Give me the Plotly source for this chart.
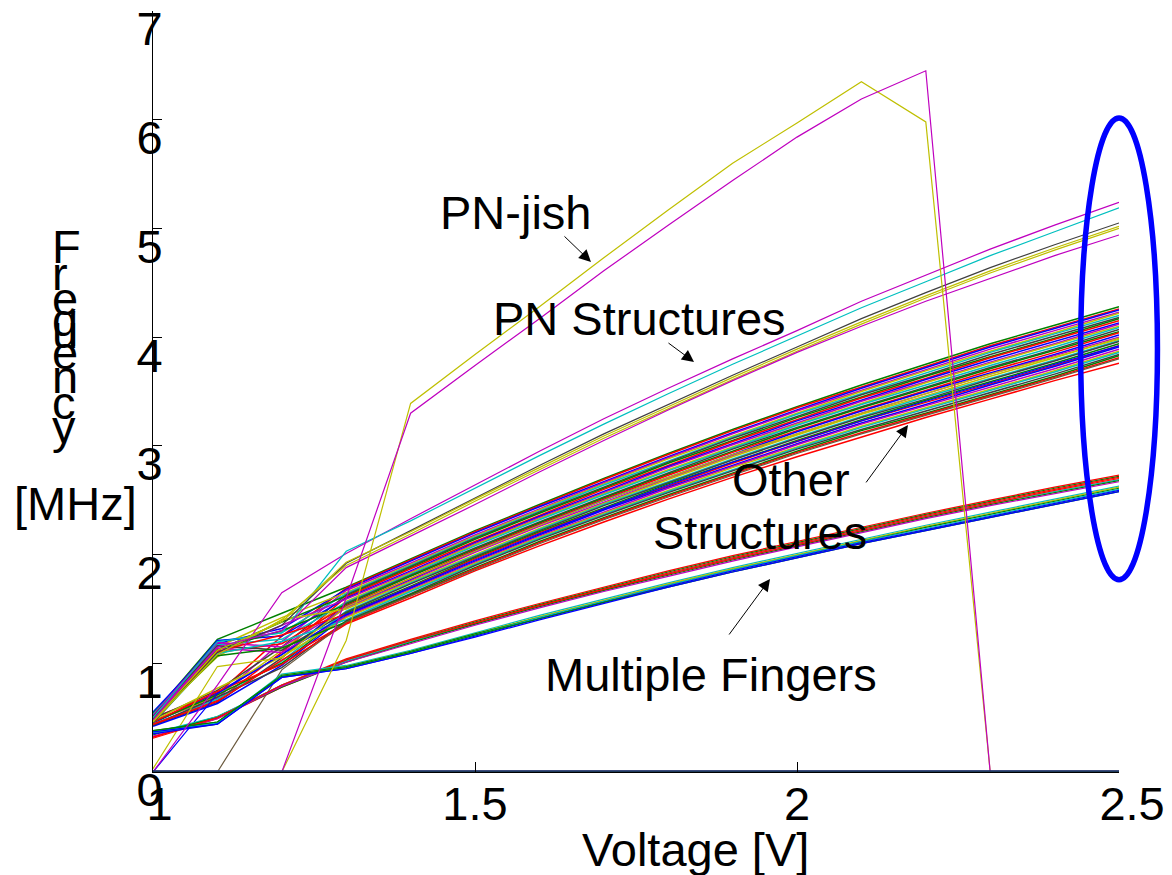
import plotly.graph_objects as go

# ---------------- data ----------------
VOLTAGE = [1.0, 1.1, 1.2, 1.3, 1.4, 1.5, 1.6, 1.7, 1.8, 1.9, 2.0, 2.1, 2.2, 2.3, 2.4, 2.5]

OTHER_STRUCTURES = [
    [0.53, 1.22, 1.46, 1.70, 1.96, 2.22, 2.46, 2.70, 2.93, 3.15, 3.36, 3.56, 3.75, 3.94, 4.11, 4.28],
    [0.50, 0.72, 1.25, 1.69, 1.95, 2.21, 2.45, 2.69, 2.92, 3.14, 3.35, 3.54, 3.73, 3.92, 4.09, 4.26],
    [0.55, 1.18, 1.32, 1.68, 1.94, 2.20, 2.44, 2.67, 2.90, 3.12, 3.33, 3.53, 3.72, 3.91, 4.08, 4.25],
    [0.47, 0.68, 1.20, 1.67, 1.92, 2.18, 2.42, 2.66, 2.89, 3.11, 3.32, 3.51, 3.70, 3.89, 4.06, 4.23],
    [0.52, 1.15, 1.42, 1.65, 1.91, 2.17, 2.41, 2.65, 2.88, 3.09, 3.30, 3.50, 3.69, 3.87, 4.04, 4.22],
    [0.45, 1.20, 1.28, 1.64, 1.90, 2.16, 2.40, 2.64, 2.86, 3.08, 3.29, 3.48, 3.67, 3.86, 4.03, 4.20],
    [0.49, 0.75, 1.15, 1.63, 1.89, 2.15, 2.39, 2.62, 2.85, 3.07, 3.27, 3.47, 3.65, 3.84, 4.01, 4.18],
    [0.54, 1.12, 1.38, 1.62, 1.88, 2.14, 2.38, 2.61, 2.84, 3.05, 3.26, 3.45, 3.64, 3.82, 3.99, 4.17],
    [0.44, 0.66, 1.10, 1.61, 1.87, 2.12, 2.36, 2.60, 2.82, 3.04, 3.24, 3.44, 3.62, 3.81, 3.98, 4.15],
    [0.51, 1.21, 1.25, 1.60, 1.85, 2.11, 2.35, 2.58, 2.81, 3.02, 3.23, 3.42, 3.61, 3.79, 3.96, 4.13],
    [0.48, 1.08, 1.35, 1.59, 1.84, 2.10, 2.34, 2.57, 2.80, 3.01, 3.21, 3.41, 3.59, 3.77, 3.94, 4.12],
    [0.46, 0.70, 1.12, 1.57, 1.83, 2.09, 2.33, 2.56, 2.78, 2.99, 3.20, 3.39, 3.58, 3.76, 3.93, 4.10],
    [0.53, 1.17, 1.22, 1.56, 1.82, 2.08, 2.32, 2.55, 2.77, 2.98, 3.19, 3.38, 3.56, 3.74, 3.91, 4.09],
    [0.43, 0.64, 1.05, 1.55, 1.81, 2.06, 2.30, 2.53, 2.75, 2.97, 3.17, 3.36, 3.54, 3.72, 3.89, 4.07],
    [0.50, 1.13, 1.30, 1.54, 1.80, 2.05, 2.29, 2.52, 2.74, 2.95, 3.16, 3.35, 3.53, 3.71, 3.88, 4.05],
    [0.47, 1.10, 1.18, 1.53, 1.78, 2.04, 2.28, 2.51, 2.73, 2.94, 3.14, 3.33, 3.51, 3.69, 3.86, 4.04],
    [0.45, 0.73, 1.08, 1.52, 1.77, 2.03, 2.27, 2.50, 2.71, 2.92, 3.13, 3.32, 3.50, 3.67, 3.84, 4.02],
    [0.52, 1.19, 1.15, 1.51, 1.76, 2.02, 2.26, 2.48, 2.70, 2.91, 3.11, 3.30, 3.48, 3.66, 3.83, 4.00],
    [0.49, 1.06, 1.40, 1.50, 1.75, 2.00, 2.24, 2.47, 2.69, 2.90, 3.10, 3.29, 3.46, 3.64, 3.81, 3.99],
    [0.44, 0.67, 1.02, 1.48, 1.74, 1.99, 2.23, 2.46, 2.67, 2.88, 3.08, 3.27, 3.45, 3.62, 3.79, 3.97],
    [0.51, 1.16, 1.12, 1.47, 1.73, 1.98, 2.22, 2.45, 2.66, 2.87, 3.07, 3.26, 3.43, 3.61, 3.78, 3.96],
    [0.46, 0.71, 1.00, 1.46, 1.71, 1.97, 2.21, 2.43, 2.65, 2.85, 3.05, 3.24, 3.42, 3.59, 3.76, 3.94],
    [0.48, 1.11, 1.26, 1.45, 1.70, 1.96, 2.20, 2.42, 2.63, 2.84, 3.04, 3.23, 3.40, 3.57, 3.74, 3.92],
    [0.42, 0.63, 0.98, 1.44, 1.69, 1.94, 2.18, 2.41, 2.62, 2.82, 3.02, 3.21, 3.38, 3.56, 3.73, 3.91],
    [0.50, 1.14, 1.10, 1.43, 1.68, 1.93, 2.17, 2.39, 2.61, 2.81, 3.01, 3.20, 3.37, 3.54, 3.71, 3.89],
    [0.47, 0.77, 1.06, 1.42, 1.67, 1.92, 2.16, 2.38, 2.59, 2.80, 2.99, 3.18, 3.35, 3.52, 3.69, 3.87],
    [0.45, 1.09, 1.20, 1.40, 1.66, 1.91, 2.15, 2.37, 2.58, 2.78, 2.98, 3.17, 3.34, 3.51, 3.68, 3.86],
    [0.43, 0.69, 0.96, 1.39, 1.64, 1.90, 2.14, 2.36, 2.57, 2.77, 2.97, 3.15, 3.32, 3.49, 3.66, 3.84],
    [0.49, 1.07, 1.14, 1.38, 1.63, 1.88, 2.12, 2.34, 2.55, 2.75, 2.95, 3.14, 3.30, 3.47, 3.64, 3.83],
    [0.44, 0.65, 1.03, 1.37, 1.62, 1.87, 2.11, 2.33, 2.54, 2.74, 2.94, 3.12, 3.29, 3.46, 3.63, 3.81],
    [0.46, 0.74, 0.99, 1.36, 1.60, 1.85, 2.08, 2.30, 2.51, 2.71, 2.90, 3.08, 3.26, 3.43, 3.60, 3.76],
]

LATE_STARTERS = [
    [0.00, 0.72, 1.08, 1.45, 1.70, 1.95, 2.19, 2.42, 2.64, 2.85, 3.04, 3.23, 3.41, 3.58, 3.75, 3.92],
    [0.03, 0.97, 1.05, 1.52, 1.78, 2.03, 2.27, 2.50, 2.71, 2.92, 3.11, 3.30, 3.48, 3.66, 3.82, 3.98],
    [0.00, 0.00, 0.94, 1.38, 1.62, 1.86, 2.10, 2.32, 2.53, 2.73, 2.93, 3.11, 3.28, 3.45, 3.62, 3.80],
]

MULTIPLE_FINGERS = [
    [0.32, 0.50, 0.80, 1.04, 1.22, 1.39, 1.55, 1.70, 1.85, 1.99, 2.12, 2.25, 2.38, 2.50, 2.62, 2.73],
    [0.34, 0.51, 0.79, 1.03, 1.21, 1.38, 1.54, 1.69, 1.84, 1.98, 2.11, 2.24, 2.37, 2.49, 2.61, 2.72],
    [0.31, 0.49, 0.78, 1.02, 1.20, 1.37, 1.53, 1.68, 1.83, 1.97, 2.10, 2.23, 2.36, 2.48, 2.60, 2.71],
    [0.36, 0.51, 0.80, 1.02, 1.20, 1.36, 1.52, 1.67, 1.82, 1.96, 2.09, 2.22, 2.35, 2.47, 2.58, 2.69],
    [0.35, 0.50, 0.78, 1.01, 1.19, 1.36, 1.52, 1.67, 1.81, 1.95, 2.08, 2.21, 2.34, 2.46, 2.57, 2.68],
    [0.33, 0.49, 0.79, 1.01, 1.18, 1.35, 1.51, 1.66, 1.80, 1.94, 2.07, 2.20, 2.33, 2.45, 2.56, 2.67],
    [0.32, 0.50, 0.80, 1.03, 1.21, 1.37, 1.53, 1.68, 1.82, 1.96, 2.09, 2.22, 2.35, 2.47, 2.59, 2.70],
    [0.37, 0.45, 0.90, 0.98, 1.12, 1.28, 1.44, 1.59, 1.74, 1.88, 2.01, 2.14, 2.27, 2.39, 2.51, 2.63],
    [0.36, 0.44, 0.89, 0.97, 1.11, 1.27, 1.43, 1.58, 1.73, 1.87, 2.00, 2.13, 2.26, 2.38, 2.50, 2.62],
    [0.38, 0.46, 0.89, 0.97, 1.11, 1.27, 1.42, 1.57, 1.72, 1.86, 1.99, 2.12, 2.25, 2.37, 2.49, 2.61],
    [0.36, 0.45, 0.88, 0.96, 1.10, 1.26, 1.42, 1.57, 1.72, 1.86, 1.99, 2.12, 2.24, 2.36, 2.48, 2.60],
    [0.37, 0.44, 0.87, 0.95, 1.09, 1.25, 1.41, 1.56, 1.71, 1.85, 1.98, 2.11, 2.23, 2.35, 2.47, 2.59],
    [0.38, 0.46, 0.88, 0.96, 1.10, 1.26, 1.41, 1.56, 1.70, 1.84, 1.97, 2.10, 2.22, 2.34, 2.46, 2.58],
    [0.35, 0.44, 0.87, 0.95, 1.09, 1.24, 1.40, 1.55, 1.70, 1.84, 1.97, 2.10, 2.22, 2.34, 2.46, 2.58],
]

PN_STRUCTURES = [
    [0.00, 0.80, 1.65, 2.01, 2.33, 2.64, 2.95, 3.25, 3.53, 3.80, 4.06, 4.33, 4.57, 4.81, 5.03, 5.24],
    [0.50, 1.20, 1.28, 2.03, 2.31, 2.61, 2.91, 3.20, 3.48, 3.75, 4.01, 4.27, 4.51, 4.75, 4.97, 5.19],
    [0.45, 1.10, 1.35, 1.92, 2.22, 2.52, 2.82, 3.11, 3.38, 3.65, 3.91, 4.17, 4.41, 4.64, 4.85, 5.05],
    [0.47, 1.12, 1.38, 1.93, 2.21, 2.51, 2.80, 3.09, 3.36, 3.63, 3.89, 4.14, 4.38, 4.61, 4.82, 5.02],
    [0.46, 1.08, 1.40, 1.90, 2.19, 2.49, 2.78, 3.07, 3.34, 3.61, 3.87, 4.12, 4.36, 4.59, 4.80, 5.00],
    [0.48, 1.15, 1.30, 1.88, 2.17, 2.46, 2.76, 3.05, 3.33, 3.60, 3.86, 4.10, 4.33, 4.54, 4.75, 4.94],
]

PN_JISH = [
    [0.00, 0.00, 0.00, 1.21, 3.39, 3.84, 4.28, 4.73, 5.17, 5.60, 5.97, 6.35, 5.98, 0.00, 0.00, 0.00],
    [0.00, 0.00, 0.00, 1.60, 3.30, 3.74, 4.17, 4.61, 5.03, 5.44, 5.84, 6.19, 6.45, 0.00, 0.00, 0.00],
]

FAILED_ZERO = [
    [0.0] * 16,
    [0.0] * 16,
    [0.0] * 16,
]

XTICK_VALS = [1.0, 1.5, 2.0, 2.5]
XTICK_TEXT = ["\u00a01", "1.5", "2", "\u00a0\u00a02.5"]
YTICK_VALS = [0, 1, 2, 3, 4, 5, 6, 7]
YTICK_TEXT = ["0", "1", "2", "3", "4", "5", "6", "7"]

# ---------------- styles ----------------
B, G, R, C, M, Y, K = "#0000ff", "#008000", "#ff0000", "#00bfbf", "#bf00bf", "#bfbf00", "#404040"
CYCLE = [G, R, B, M, Y, C, K]
FONT = "Liberation Sans, Arial, Helvetica, sans-serif"
LW = 1.2

fig = go.Figure()


def add(vals, color, width=LW):
    fig.add_trace(go.Scatter(x=VOLTAGE, y=vals, mode="lines",
                             line=dict(color=color, width=width),
                             hoverinfo="skip", showlegend=False))


for i, v in enumerate(OTHER_STRUCTURES):
    add(v, R if i == len(OTHER_STRUCTURES) - 1 else CYCLE[i % len(CYCLE)], 1.5)
for v, c in zip(LATE_STARTERS, [B, Y, "#6b5a3e"]):
    add(v, c)
for v, c in zip(MULTIPLE_FINGERS, [R, G, R, C, G, M, R, C, Y, G, C, B, G, B]):
    add(v, c)
for v, c in zip(PN_STRUCTURES, [M, C, K, Y, Y, M]):
    add(v, c)
for v, c in zip(PN_JISH, [Y, M]):
    add(v, c)
for v, c in zip(FAILED_ZERO, [B, K, "#1f3b5c"]):
    add(v, c, 3)

fig.update_layout(
    width=1172, height=875,
    margin=dict(l=153, r=53, t=11, b=103, autoexpand=False),
    paper_bgcolor="white", plot_bgcolor="white",
    showlegend=False,
    font=dict(family=FONT, size=47, color="black"),
)
fig.update_xaxes(
    range=[1, 2.5], tickmode="array", tickvals=XTICK_VALS, ticktext=XTICK_TEXT,
    ticks="inside", ticklen=10, tickwidth=1, tickcolor="black",
    showline=True, linecolor="black", linewidth=1,
    showgrid=False, zeroline=False, automargin=False,
    ticklabelstandoff=-9,
    tickfont=dict(family=FONT, size=47, color="black"),
)
fig.update_yaxes(
    range=[0, 7], tickmode="array", tickvals=YTICK_VALS, ticktext=YTICK_TEXT,
    ticks="inside", ticklen=9, tickwidth=1, tickcolor="black",
    showline=True, linecolor="black", linewidth=1,
    showgrid=False, zeroline=False, automargin=False,
    ticklabelshift=18, ticklabelstandoff=-20,
    tickfont=dict(family=FONT, size=47, color="black"),
)

ann = []
# axis titles
ann.append(dict(text="Voltage [V]", x=0.5621, y=-0.1012, xref="paper", yref="paper",
                xanchor="center", yanchor="middle", showarrow=False))
letters = ["F", "r", "e", "q", "u", "e", "n", "c", "y"]
letter_y = [0.6899, 0.6557, 0.6216, 0.5940, 0.5795, 0.5519, 0.5191, 0.4862, 0.4534]
for ch, yy in zip(letters, letter_y):
    ann.append(dict(text=ch, x=-0.1066, y=yy, xref="paper", yref="paper",
                    xanchor="left", yanchor="middle", showarrow=False))
ann.append(dict(text="[MHz]", x=-0.0802, y=0.3522, xref="paper", yref="paper",
                xanchor="center", yanchor="middle", showarrow=False))

# labels in plot
for txt, xx, yy in [("PN-jish", 1.5629, 5.147), ("PN Structures", 1.7562, 4.167),
                    ("Other", 1.9907, 2.695), ("Structures", 1.9418, 2.203),
                    ("Multiple Fingers", 1.8672, 0.897)]:
    ann.append(dict(text=txt, x=xx, y=yy, xref="x", yref="y",
                    xanchor="center", yanchor="middle", showarrow=False))

# arrows (tip, tail)
for tip, tail in [((1.6801, 4.692), (1.6366, 4.940)),
                  ((1.8401, 3.772), (1.7981, 3.956)),
                  ((2.1724, 3.192), (2.1056, 2.650)),
                  ((1.9581, 1.776), (1.8929, 1.251))]:
    ann.append(dict(text="", x=tip[0], y=tip[1], ax=tail[0], ay=tail[1],
                    xref="x", yref="y", axref="x", ayref="y",
                    showarrow=True, arrowhead=2, arrowsize=2.4, arrowwidth=1,
                    arrowcolor="black", standoff=0, startstandoff=0))
fig.update_layout(annotations=ann)

fig.add_shape(type="circle", xref="paper", yref="paper",
              x0=0.9603, x1=1.0398, y0=0.2527, y1=0.8594,
              line=dict(color="#0000ff", width=5.5), layer="above")

fig.write_html("out.html")
